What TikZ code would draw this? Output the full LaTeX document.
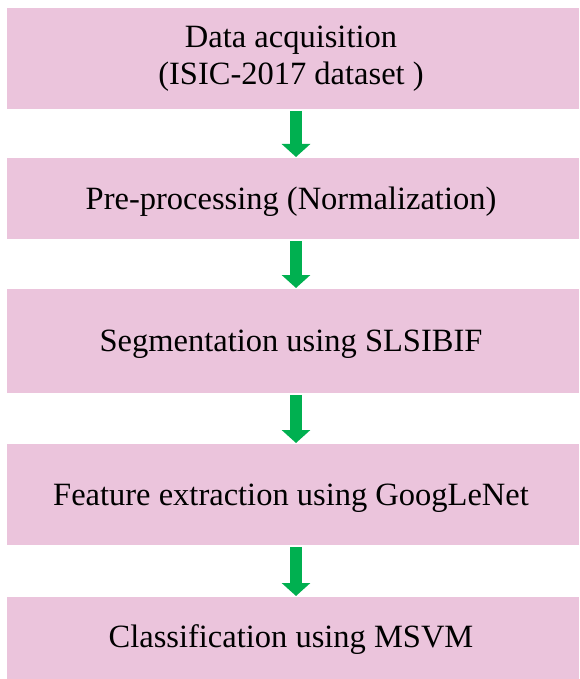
\documentclass[tikz,border=0pt]{standalone}
\usepackage{fontspec}
\setmainfont{Liberation Serif}
\usetikzlibrary{arrows.meta}
\definecolor{boxpink}{RGB}{235,196,220}
\definecolor{arrgreen}{RGB}{0,176,80}
\tikzset{
  stagebox/.style={fill=boxpink, draw=none, inner sep=0pt, outer sep=0pt},
  stagetext/.style={anchor=base, inner sep=0pt, font=\fontsize{32.5}{37}\selectfont},
  flowarrow/.style={draw=arrgreen, line width=12pt,
    -{Triangle[width=28pt,length=13pt]}, shorten <=2pt, shorten >=1pt}
}
\begin{document}
\begin{tikzpicture}[x=1pt,y=-1pt]
\useasboundingbox (0,0) rectangle (579,679);
\fill[white] (0,0) rectangle (579,679);
% boxes
\node[stagebox, minimum width=572pt, minimum height=101pt, anchor=north west] (b1) at (7,8) {};
\node[stagebox, minimum width=572pt, minimum height=81pt, anchor=north west] (b2) at (7,158) {};
\node[stagebox, minimum width=572pt, minimum height=104pt, anchor=north west] (b3) at (7,289) {};
\node[stagebox, minimum width=572pt, minimum height=101pt, anchor=north west] (b4) at (7,444) {};
\node[stagebox, minimum width=572pt, minimum height=85pt, anchor=north west] (b5) at (7,597) {};
% texts
\node[stagetext] (t1a) at (291,48) {Data acquisition};
\node[stagetext] (t1b) at (291,85) {(ISIC-2017 dataset )};
\node[stagetext] (t2) at (291,209) {Pre-processing (Normalization)};
\node[stagetext] (t3) at (291,351.5) {Segmentation using SLSIBIF};
\node[stagetext] (t4) at (291,505) {Feature extraction using GoogLeNet};
\node[stagetext] (t5) at (291,647) {Classification using MSVM};
% arrows
\draw[flowarrow] (b1.south -| 296,0) -- (b2.north -| 296,0);
\draw[flowarrow] (b2.south -| 296,0) -- (b3.north -| 296,0);
\draw[flowarrow] (b3.south -| 296,0) -- (b4.north -| 296,0);
\draw[flowarrow] (b4.south -| 296,0) -- (b5.north -| 296,0);
\end{tikzpicture}
\end{document}
